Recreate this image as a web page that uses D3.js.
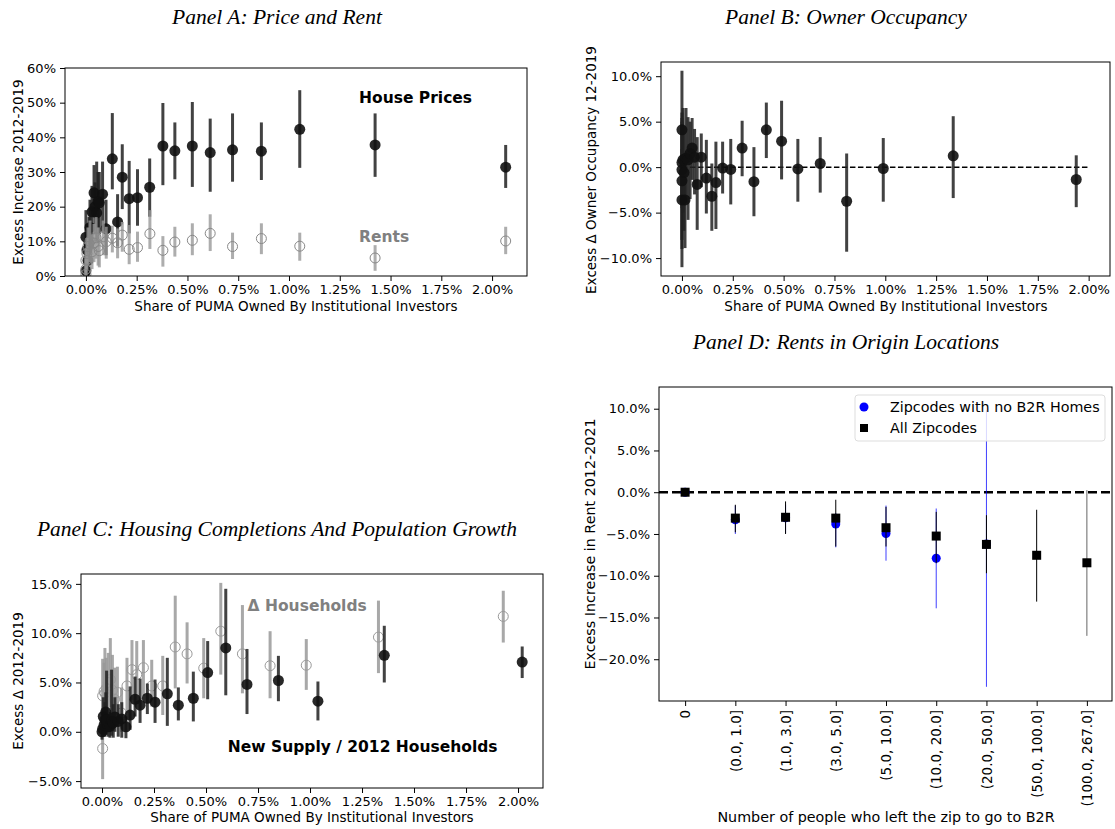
<!DOCTYPE html>
<html>
<head>
<meta charset="utf-8">
<script src="https://cdn.jsdelivr.net/npm/d3@7"></script>
<style>
body { margin: 0; background: #fff; }
svg text { font-family: "DejaVu Sans", sans-serif; }
.title { font-family: "Liberation Serif", serif; font-style: italic; font-size: 21.5px; }
.axis text { font-size: 13px; fill: #000; }
.axis line { stroke: #000; }
.lab { font-size: 13.5px; }
.lab.big { font-size: 14.3px; }
.note { font-size: 15.5px; font-weight: bold; }
</style>
</head>
<body>
<svg id="fig" width="1115" height="829"></svg>
<script>
/// Panel A: price and rent (x = share %, y = excess increase %)
var priceX  = [0.000, 0.000, 0.005, 0.010, 0.015, 0.020, 0.030, 0.040, 0.045, 0.053, 0.060, 0.066, 0.082, 0.099, 0.130, 0.156, 0.179, 0.213, 0.254, 0.314, 0.379, 0.438, 0.524, 0.612, 0.722, 0.864, 1.053, 1.424, 2.067];
var priceY  = [11.2, 1.5, 7.5, 4.5, 9.5, 14.0, 18.5, 24.0, 20.0, 18.2, 21.5, 21.1, 23.6, 13.6, 33.8, 15.6, 28.5, 22.3, 22.6, 25.6, 37.5, 36.1, 37.5, 35.6, 36.4, 36.0, 42.3, 37.8, 31.4];
var priceLo = [4, 0, 1, 0, 3, 6, 10, 17, 12, 10, 14, 12, 14, 6, 25, 8.5, 19.3, 12.3, 14.5, 17.1, 26.2, 27.9, 25.7, 24.3, 27.2, 27.7, 31.2, 28.6, 25.4];
var priceHi = [19, 5, 15, 12, 17, 22, 26, 32, 27, 33, 30, 30, 33, 22, 47, 23.6, 38, 33.2, 30.8, 33.9, 49.9, 44.3, 50.2, 45.4, 46.9, 44.3, 53.6, 46.9, 37.8];

var rentX  = [0.000, 0.000, 0.000, 0.005, 0.010, 0.020, 0.030, 0.040, 0.050, 0.060, 0.066, 0.085, 0.100, 0.130, 0.156, 0.179, 0.213, 0.254, 0.315, 0.379, 0.438, 0.524, 0.612, 0.722, 0.864, 1.053, 1.424, 2.067];
var rentY  = [0.5, 2.0, 4.5, 6.5, 8.5, 10.0, 7.0, 9.5, 11.0, 8.5, 7.3, 11.3, 9.9, 10.9, 9.6, 11.8, 7.7, 8.2, 12.2, 7.4, 9.8, 10.3, 12.3, 8.5, 10.8, 8.6, 5.2, 10.1];
var rentLo = [0, 0, 1, 2, 3, 4, 2, 4, 5, 3, 2.5, 6, 5, 6.8, 5.1, 7.0, 3.4, 4.1, 7.8, 2.7, 5.6, 6.0, 7.2, 4.9, 6.3, 4.4, 1.5, 6.3];
var rentHi = [2, 5, 8, 11, 14, 16, 12, 15, 17, 14, 12, 16, 14.2, 14.5, 13.7, 15.6, 14.7, 12.8, 19.0, 11.5, 14.2, 15.2, 17.8, 12.5, 15.2, 12.5, 8.9, 14.2];

/// Panel B: owner occupancy
var occX  = [0.000, 0.000, 0.000, 0.000, 0.000, 0.005, 0.010, 0.015, 0.020, 0.030, 0.040, 0.050, 0.062, 0.075, 0.095, 0.120, 0.147, 0.167, 0.200, 0.240, 0.296, 0.354, 0.415, 0.490, 0.570, 0.680, 0.810, 0.990, 1.334, 1.939];
var occY  = [4.1, 0.5, -0.3, -1.5, -3.6, 0.8, -0.6, -3.6, 1.0, 0.8, 1.5, 2.1, 1.1, -1.9, 1.1, -1.2, -3.2, -1.7, -0.1, -0.25, 2.1, -1.6, 4.1, 2.85, -0.2, 0.4, -3.75, -0.15, 1.25, -1.36];
var occLo = [-4.2, -4.5, -11.0, -8.0, -9.0, -5.0, -7.0, -8.9, -4.0, -5.8, -3.5, -1.4, -3.0, -6.9, -2.2, -5.1, -7.0, -6.8, -2.9, -4.1, -1.0, -5.4, 1.0, -1.35, -3.8, -2.8, -9.3, -3.8, -3.4, -4.4];
var occHi = [5.4, 10.6, 6.0, 5.0, 2.0, 6.5, 4.5, 1.5, 6.5, 5.5, 5.0, 5.4, 4.2, 3.3, 3.7, 3.0, 0.4, 2.8, 2.8, 3.1, 5.1, 2.2, 7.1, 7.3, 3.1, 3.3, 1.5, 3.2, 5.6, 1.3];

/// Panel C: new supply and households
var supX  = [0.000, 0.003, 0.006, 0.010, 0.014, 0.018, 0.022, 0.030, 0.038, 0.046, 0.054, 0.062, 0.078, 0.095, 0.115, 0.135, 0.159, 0.183, 0.218, 0.255, 0.314, 0.367, 0.439, 0.508, 0.595, 0.697, 0.848, 1.038, 1.357, 2.020];
var supY  = [0.0, 0.3, 1.55, 0.7, 1.2, 2.0, 1.2, 0.5, 0.55, 1.1, 0.9, 1.5, 1.05, 1.3, 0.5, 1.7, 3.3, 2.7, 3.4, 3.0, 3.85, 2.7, 3.4, 6.0, 8.5, 4.8, 5.2, 3.1, 7.75, 7.07];
var supLo = [-0.8, -0.5, 0, -0.3, -0.5, 0.2, -0.3, -0.5, -0.6, -0.4, -0.6, 0, -0.5, -0.6, -0.65, 0.2, 1.55, 0.9, 1.8, 0.9, 0.6, 1.15, 1.05, 3.3, 3.7, 1.8, 3.1, 1.15, 5.0, 5.45];
var supHi = [1.0, 1.2, 3.5, 2.0, 3.0, 4.0, 6.2, 1.8, 2.0, 6.3, 2.8, 3.5, 2.8, 3.0, 1.55, 4.6, 5.6, 5.4, 4.9, 5.3, 7.5, 4.5, 6.1, 9.2, 14.5, 8.4, 7.7, 5.1, 10.75, 8.65];

var hhX  = [0.003, 0.003, 0.010, 0.014, 0.020, 0.030, 0.040, 0.050, 0.060, 0.074, 0.094, 0.120, 0.144, 0.167, 0.199, 0.239, 0.292, 0.352, 0.409, 0.489, 0.571, 0.675, 0.808, 0.982, 1.329, 1.929];
var hhY  = [-1.7, 3.65, 4.1, 3.9, 4.4, 5.0, 5.3, 4.2, 3.3, 4.0, 1.9, 4.65, 6.3, 5.8, 6.5, 4.65, 4.65, 8.6, 7.9, 6.45, 10.2, 7.9, 6.7, 6.75, 9.6, 11.7];
var hhLo = [-4.8, 1.0, 0.5, 1.0, 1.0, 2.0, 2.5, 1.0, 0.5, 1.2, 0.0, 1.9, 3.25, 2.9, 3.65, 2.55, 1.7, 4.4, 4.9, 3.4, 5.8, 3.9, 3.4, 4.25, 5.95, 9.05];
var hhHi = [1.4, 7.4, 7.0, 8.5, 7.5, 8.0, 9.5, 7.8, 6.5, 6.6, 4.5, 7.5, 9.3, 9.2, 9.3, 7.3, 7.7, 13.8, 11.1, 9.5, 15.1, 12.85, 10.2, 9.4, 13.3, 14.3];

/// Panel D: rents in origin locations
var zipCats = ["0", "(0.0, 1.0]", "(1.0, 3.0]", "(3.0, 5.0]", "(5.0, 10.0]", "(10.0, 20.0]", "(20.0, 50.0]", "(50.0, 100.0]", "(100.0, 267.0]"];
var allY  = [0, -3.1, -3.0, -3.1, -4.25, -5.25, -6.25, -7.55, -8.45];
var allLo = [0, -4.8, -5.0, -6.5, -6.5, -8.5, -9.7, -13.1, -17.2];
var allHi = [0, -1.5, -1.1, -0.9, -1.75, -2.35, -2.75, -2.1, 0.25];
var noY  = [0, -3.3, -3.05, -3.8, -4.95, -7.9, -6.2];
var noLo = [0, -5.0, -4.9, -6.6, -8.2, -13.9, -23.3];
var noHi = [0, -1.6, -1.5, -2.5, -1.6, -1.95, 9.8];

var xShareTicks = [0, 0.25, 0.5, 0.75, 1.0, 1.25, 1.5, 1.75, 2.0];

var svg = d3.select("#fig");
var clipN = 0;

function fmtSigned(d, n) { return (d < 0 ? "\u2212" : "") + Math.abs(d).toFixed(n) + "%"; }

function makePanel(box, xd, yd) {
  var g = svg.append("g").attr("transform", "translate(" + box.left + "," + box.top + ")");
  var x = d3.scaleLinear().domain(xd).range([0, box.width]);
  var y = d3.scaleLinear().domain(yd).range([box.height, 0]);
  var id = "clip" + (clipN++);
  g.append("clipPath").attr("id", id).append("rect").attr("width", box.width).attr("height", box.height);
  var plot = g.append("g").attr("clip-path", "url(#" + id + ")");
  return {g: g, x: x, y: y, plot: plot, box: box};
}

function frame(p, xAxis, yAxis) {
  p.g.append("g").attr("class", "axis xax").attr("transform", "translate(0," + p.box.height + ")")
    .call(xAxis.tickSize(5).tickPadding(4).tickSizeOuter(0))
    .call(function(a) { a.select(".domain").remove(); });
  p.g.append("g").attr("class", "axis")
    .call(yAxis.tickSize(5).tickPadding(4).tickSizeOuter(0))
    .call(function(a) { a.select(".domain").remove(); });
  p.g.append("rect").attr("width", p.box.width).attr("height", p.box.height)
    .attr("fill", "none").attr("stroke", "#000").attr("stroke-width", 1);
}

function errorbars(p, xs, ys, lo, hi, color, width, opacity) {
  p.plot.append("g").selectAll("line").data(ys).join("line")
    .attr("x1", function(d, i) { return p.x(xs[i]); })
    .attr("x2", function(d, i) { return p.x(xs[i]); })
    .attr("y1", function(d, i) { return p.y(lo[i]); })
    .attr("y2", function(d, i) { return p.y(hi[i]); })
    .attr("stroke", typeof color === "function" ? function(d, i) { return color(i); } : color)
    .attr("stroke-width", width).attr("opacity", opacity);
}

function dots(p, xs, ys, r, fill, stroke, opacity) {
  p.plot.append("g").selectAll("circle").data(ys).join("circle")
    .attr("cx", function(d, i) { return p.x(xs[i]); })
    .attr("cy", function(d) { return p.y(d); })
    .attr("r", r).attr("fill", fill).attr("stroke", stroke).attr("stroke-width", 1)
    .attr("opacity", opacity);
}

function title(txt, cx, y) {
  svg.append("text").attr("class", "title").attr("x", cx).attr("y", y)
    .attr("text-anchor", "middle").text(txt);
}

function xLabel(txt, cx, y, cls) {
  svg.append("text").attr("class", "lab" + (cls ? " " + cls : "")).attr("x", cx).attr("y", y)
    .attr("text-anchor", "middle").text(txt);
}

function yLabel(txt, x, cy, cls) {
  svg.append("text").attr("class", "lab" + (cls ? " " + cls : ""))
    .attr("transform", "translate(" + x + "," + cy + ") rotate(-90)")
    .attr("text-anchor", "middle").text(txt);
}

/// ---------- Panel A ----------
var pa = makePanel({left: 65, top: 68, width: 462, height: 208}, [-0.103, 2.172], [0, 60]);
errorbars(pa, priceX, priceY, priceLo, priceHi, "#222", 3, 0.85);
dots(pa, priceX, priceY, 5.5, "#111", "none", 0.9);
errorbars(pa, rentX, rentY, rentLo, rentHi, "#999", 3, 0.8);
dots(pa, rentX, rentY, 5, "none", "#888", 1);
frame(pa,
  d3.axisBottom(pa.x).tickValues(xShareTicks).tickFormat(function(d) { return fmtSigned(d, 2); }),
  d3.axisLeft(pa.y).tickValues(d3.range(0, 61, 10)).tickFormat(function(d) { return d + "%"; }));
pa.g.append("text").attr("class", "note").attr("x", pa.x(1.345)).attr("y", pa.y(51.6)).attr("dy", "0.35em").text("House Prices");
pa.g.append("text").attr("class", "note").attr("fill", "#808080").attr("x", pa.x(1.345)).attr("y", pa.y(11.5)).attr("dy", "0.35em").text("Rents");
title("Panel A: Price and Rent", 277, 24);
xLabel("Share of PUMA Owned By Institutional Investors", 296, 311);
yLabel("Excess Increase 2012-2019", 23, 172);

/// ---------- Panel B ----------
var pb = makePanel({left: 661, top: 62, width: 449, height: 214}, [-0.103, 2.105], [-11.97, 11.56]);
pb.plot.append("line")
  .attr("x1", pb.x(0)).attr("x2", pb.x(2.0)).attr("y1", pb.y(0)).attr("y2", pb.y(0))
  .attr("stroke", "#000").attr("stroke-width", 1.5).attr("stroke-dasharray", "5.5,2.5");
errorbars(pb, occX, occY, occLo, occHi, "#222", 3, 0.85);
dots(pb, occX, occY, 5.5, "#111", "none", 0.9);
frame(pb,
  d3.axisBottom(pb.x).tickValues(xShareTicks).tickFormat(function(d) { return fmtSigned(d, 2); }),
  d3.axisLeft(pb.y).tickValues([-10, -5, 0, 5, 10]).tickFormat(function(d) { return fmtSigned(d, 1); }));
title("Panel B: Owner Occupancy", 846, 24);
xLabel("Share of PUMA Owned By Institutional Investors", 886, 311);
yLabel("Excess \u0394 Owner Occupancy 12-2019", 596, 170);

/// ---------- Panel C ----------
var pc = makePanel({left: 81, top: 574, width: 462, height: 214}, [-0.101, 2.12], [-5.7, 16.0]);
errorbars(pc, hhX, hhY, hhLo, hhHi, "#999", 3, 0.85);
dots(pc, hhX, hhY, 5, "none", "#999", 1);
errorbars(pc, supX, supY, supLo, supHi, "#222", 3, 0.85);
dots(pc, supX, supY, 5.5, "#111", "none", 0.9);
frame(pc,
  d3.axisBottom(pc.x).tickValues(xShareTicks).tickFormat(function(d) { return fmtSigned(d, 2); }),
  d3.axisLeft(pc.y).tickValues([-5, 0, 5, 10, 15]).tickFormat(function(d) { return fmtSigned(d, 1); }));
pc.g.append("text").attr("class", "note").attr("fill", "#808080").attr("x", pc.x(0.7)).attr("y", pc.y(12.8)).attr("dy", "0.35em").text("\u0394 Households");
pc.g.append("text").attr("class", "note").attr("x", pc.x(0.605)).attr("y", pc.y(-1.5)).attr("dy", "0.35em").text("New Supply / 2012 Households");
title("Panel C: Housing Completions And Population Growth", 277, 536);
xLabel("Share of PUMA Owned By Institutional Investors", 312, 822);
yLabel("Excess \u0394 2012-2019", 23, 681);

/// ---------- Panel D ----------
var pd = makePanel({left: 659, top: 387, width: 453, height: 314}, [-0.52, 8.5], [-25.0, 12.6]);
var catIdx = d3.range(zipCats.length);
pd.plot.append("line")
  .attr("x1", 0).attr("x2", pd.box.width).attr("y1", pd.y(0)).attr("y2", pd.y(0))
  .attr("stroke", "#000").attr("stroke-width", 2.5).attr("stroke-dasharray", "9,4");
errorbars(pd, catIdx, noY, noLo, noHi, "#0000ff", 1, 0.75);
dots(pd, catIdx, noY, 4.5, "#0000ff", "none", 1);
errorbars(pd, catIdx, allY, allLo, allHi, function(i) { return i === zipCats.length - 1 ? "#666" : "#000"; }, 1, 1);
pd.plot.append("g").selectAll("rect").data(allY).join("rect")
  .attr("x", function(d, i) { return pd.x(i) - 4.5; })
  .attr("y", function(d) { return pd.y(d) - 4.5; })
  .attr("width", 9).attr("height", 9).attr("fill", "#000");
frame(pd,
  d3.axisBottom(pd.x).tickValues(catIdx).tickFormat(function(i) { return zipCats[i]; }),
  d3.axisLeft(pd.y).tickValues([-20, -15, -10, -5, 0, 5, 10]).tickFormat(function(d) { return fmtSigned(d, 1); }));
pd.g.select(".xax").selectAll(".tick text")
  .attr("x", -9).attr("y", 0).attr("dy", "0.35em")
  .attr("transform", "rotate(-90)").attr("text-anchor", "end")
  .style("font-size", "13.5px");

/// legend
var lg = svg.append("g").attr("transform", "translate(855,395)");
lg.append("rect").attr("width", 250).attr("height", 46).attr("rx", 3)
  .attr("fill", "#fff").attr("fill-opacity", 0.8).attr("stroke", "#ddd");
lg.append("circle").attr("cx", 9).attr("cy", 12).attr("r", 4.5).attr("fill", "#0000ff");
lg.append("rect").attr("x", 5).attr("y", 29).attr("width", 8).attr("height", 8).attr("fill", "#000");
lg.append("text").attr("class", "lab big").attr("x", 35).attr("y", 12).attr("dy", "0.35em").text("Zipcodes with no B2R Homes");
lg.append("text").attr("class", "lab big").attr("x", 35).attr("y", 33).attr("dy", "0.35em").text("All Zipcodes");

title("Panel D: Rents in Origin Locations", 846, 349);
xLabel("Number of people who left the zip to go to B2R", 886, 822, "big");
yLabel("Excess Increase in Rent 2012-2021", 595, 544, "big");
</script>
</body>
</html>
